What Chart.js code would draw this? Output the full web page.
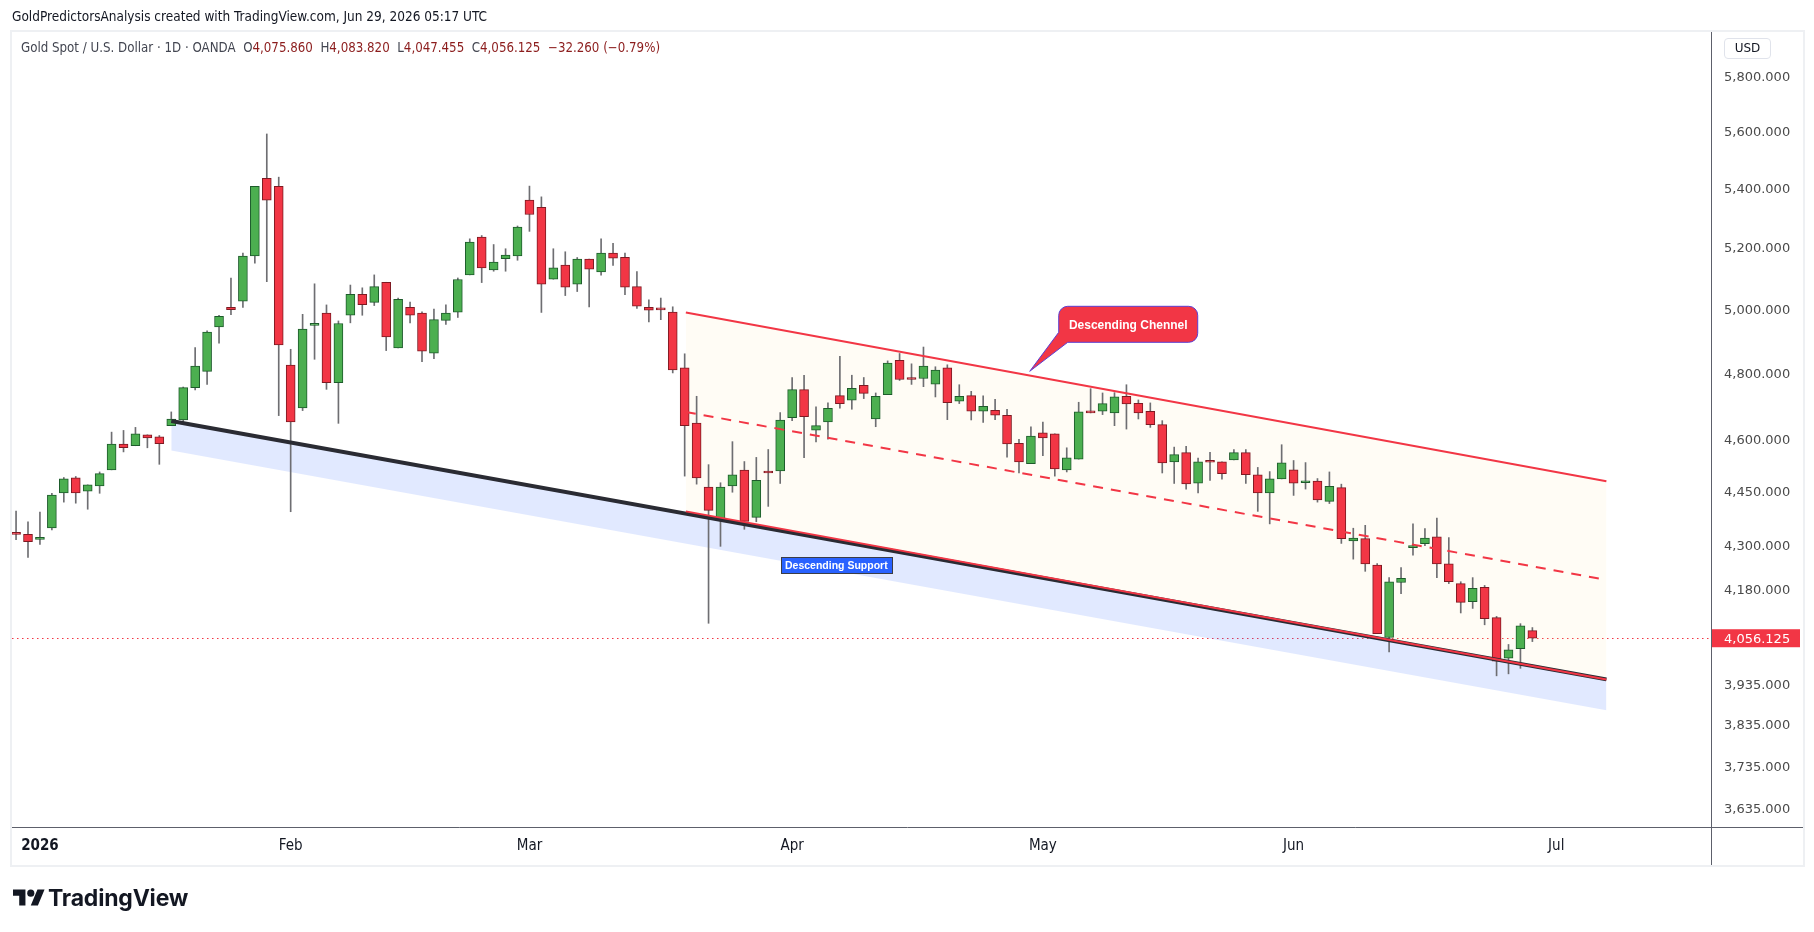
<!DOCTYPE html>
<html>
<head>
<title>Gold Spot / U.S. Dollar - 1D - OANDA</title>
<script src="https://cdn.jsdelivr.net/npm/chart.js"></script>
<style>
  html, body { margin: 0; padding: 0; background: #fff; }
  body {
    width: 1814px; height: 932px; position: relative; overflow: hidden;
    font-family: "Liberation Sans Narrow", "DejaVu Sans Condensed", "Liberation Sans", sans-serif;
    color: #131722;
  }
  #chart { position: absolute; left: 0; top: 0; }
  .txt { position: absolute; white-space: nowrap; pointer-events: none; }
  #credit { left: 12px; top: 8px; font-size: 13.5px; line-height: 17px; }
  #legend { left: 21px; top: 39px; font-size: 13.2px; line-height: 17px; color: #434651; }
  #legend b { font-weight: normal; color: #8c1d1d; }
  #frame {
    position: absolute; left: 10px; top: 30px; width: 1795px; height: 837px;
    box-sizing: border-box; border: 2px solid #eef0f3; pointer-events: none;
  }
  #usd {
    left: 1724px; top: 38px; width: 47px; height: 21px; box-sizing: border-box;
    border: 1px solid #e0e3eb; border-radius: 4px; font: 12px "DejaVu Sans", sans-serif;
    line-height: 19px; text-align: center; color: #131722;
  }
  #logo { left: 13px; top: 886px; }
  #logotext { left: 48px; top: 883px; font: 700 23px Inter, Roboto, sans-serif; line-height: 30px; letter-spacing: -0.2px; }
</style>
</head>
<body>
<canvas id="chart" width="1814" height="932"></canvas>
<div id="frame"></div>
<div class="txt" id="credit">GoldPredictorsAnalysis created with TradingView.com, Jun 29, 2026 05:17 UTC</div>
<div class="txt" id="legend">Gold Spot / U.S. Dollar · 1D · OANDA&nbsp; O<b>4,075.860</b>&nbsp; H<b>4,083.820</b>&nbsp; L<b>4,047.455</b>&nbsp; C<b>4,056.125</b>&nbsp; <b>−32.260 (−0.79%)</b></div>
<div class="txt" id="usd">USD</div>
<svg class="txt" id="logo" width="32" height="25" viewBox="0 0 36 28"><path d="M14 22H7V11H0V4h14v18zM28 22h-8l7.5-18h8L28 22z" fill="#131722"/><circle cx="20" cy="8" r="4" fill="#131722"/></svg>
<div class="txt" id="logotext">TradingView</div>

<script>
// daily candles, Dec 30 2025 .. Jun 29 2026 (trading days)
const opens = [4335, 4334, 4320, 4352, 4450, 4493, 4455, 4470, 4516, 4591,
  4586, 4618, 4612, 4645, 4662, 4759, 4809, 4947, 5009, 5029,
  5176, 5439, 5411, 4828, 4698, 4952, 4991, 4774, 4984, 5051,
  5025, 5090, 4881, 5009, 4991, 4865, 4968, 4994, 5114, 5239,
  5130, 5167, 5176, 5364, 5339, 5100, 5146, 5084, 5166, 5124,
  5186, 5172, 5076, 5009, 5003, 4994, 4820, 4653, 4467, 4375,
  4470, 4515, 4381, 4509, 4513, 4669, 4753, 4632, 4656, 4735,
  4721, 4766, 4665, 4738, 4843, 4790, 4787, 4770, 4820, 4718,
  4735, 4688, 4691, 4676, 4593, 4534, 4624, 4621, 4516, 4547,
  4685, 4688, 4683, 4733, 4712, 4688, 4648, 4539, 4566, 4478,
  4540, 4539, 4545, 4566, 4502, 4450, 4490, 4516, 4479, 4484,
  4426, 4465, 4316, 4322, 4250, 4058, 4203, 4297, 4308, 4327,
  4253, 4200, 4152, 4190, 4110, 4005, 4029, 4075.86];
const highs = [4399, 4369, 4396, 4449, 4494, 4497, 4473, 4510, 4626, 4631,
  4640, 4618, 4616, 4686, 4761, 4882, 4935, 4984, 5104, 5186,
  5411, 5595, 5443, 4877, 4987, 5085, 5017, 4966, 5081, 5072,
  5114, 5090, 5039, 5026, 4995, 5004, 5017, 5104, 5233, 5244,
  5214, 5200, 5276, 5412, 5375, 5200, 5190, 5171, 5166, 5233,
  5218, 5186, 5125, 5033, 5039, 5011, 4863, 4733, 4531, 4479,
  4598, 4540, 4552, 4575, 4684, 4790, 4797, 4701, 4713, 4855,
  4797, 4790, 4743, 4841, 4864, 4832, 4884, 4823, 4829, 4768,
  4748, 4734, 4724, 4694, 4605, 4642, 4656, 4621, 4580, 4715,
  4756, 4743, 4744, 4768, 4722, 4713, 4660, 4582, 4584, 4550,
  4567, 4539, 4575, 4575, 4523, 4511, 4589, 4543, 4537, 4491,
  4510, 4475, 4351, 4359, 4254, 4216, 4243, 4363, 4350, 4379,
  4325, 4205, 4216, 4195, 4113, 4040, 4094, 4083.82];
const lows = [4319, 4271, 4306, 4346, 4424, 4421, 4404, 4449, 4516, 4568,
  4586, 4580, 4532, 4645, 4655, 4752, 4769, 4896, 4986, 5009,
  5152, 5092, 4675, 4397, 4690, 4846, 4754, 4652, 4960, 4984,
  5015, 4873, 4881, 4960, 4839, 4848, 4955, 4977, 5114, 5089,
  5126, 5126, 5162, 5258, 4993, 5100, 5047, 5060, 5011, 5113,
  5145, 5050, 5006, 4963, 4970, 4804, 4498, 4475, 4095, 4301,
  4452, 4348, 4369, 4412, 4477, 4660, 4551, 4597, 4605, 4697,
  4694, 4726, 4642, 4738, 4781, 4769, 4762, 4731, 4663, 4711,
  4662, 4655, 4663, 4553, 4507, 4534, 4557, 4498, 4510, 4547,
  4683, 4678, 4645, 4635, 4665, 4640, 4507, 4477, 4461, 4450,
  4486, 4489, 4545, 4477, 4398, 4363, 4490, 4443, 4461, 4424,
  4420, 4309, 4266, 4233, 4068, 4021, 4173, 4277, 4303, 4216,
  4200, 4122, 4134, 4091, 3960, 3965, 3979, 4047.455];
const closes = [4334, 4314, 4326, 4444, 4490, 4450, 4473, 4505, 4591, 4580,
  4621, 4609, 4592, 4665, 4759, 4825, 4931, 4981, 5002, 5176,
  5411, 5364, 4891, 4656, 4940, 4958, 4774, 4958, 5051, 5018,
  5076, 4916, 5035, 4984, 4871, 4970, 4991, 5099, 5222, 5137,
  5156, 5179, 5272, 5315, 5084, 5137, 5074, 5166, 5133, 5186,
  5169, 5074, 5013, 5000, 5001, 4813, 4645, 4493, 4401, 4467,
  4502, 4370, 4486, 4507, 4662, 4753, 4672, 4645, 4697, 4711,
  4757, 4742, 4733, 4834, 4784, 4784, 4825, 4813, 4714, 4733,
  4688, 4703, 4676, 4591, 4539, 4614, 4609, 4519, 4551, 4686,
  4683, 4711, 4731, 4710, 4683, 4648, 4536, 4560, 4476, 4539,
  4538, 4505, 4566, 4502, 4450, 4490, 4536, 4478, 4481, 4430,
  4469, 4322, 4324, 4253, 4068, 4205, 4214, 4303, 4324, 4253,
  4205, 4150, 4187, 4107, 3997, 4026, 4088.385, 4056.125];

const xTickIndex = [2, 23, 43, 65, 86, 107, 129];
const xTickLabels = ['2026', 'Feb', 'Mar', 'Apr', 'May', 'Jun', 'Jul'];
const yTickValues = [5800, 5600, 5400, 5200, 5000, 4800, 4600, 4450, 4300, 4180, 3935, 3835, 3735, 3635];
const lastPrice = 4056.125;

// drawings: [bar index, price]
const supportLine = [[13.0, 4659], [133.2, 3951]];
const supportBandBottom = [[13.0, 4572], [133.2, 3874]];
const channelUpper = [[56.1, 4993], [133.2, 4483]];
const channelMid = [[56.1, 4686], [133.2, 4210]];
const channelLower = [[56.1, 4398], [133.2, 3951]];
const channelCalloutTip = [84.9, 4809];
const supportLabelAt = [68.7, 4250];

const GREEN = '#4caf50', GREEN_EDGE = '#1d5b2b', RED = '#f23645', RED_EDGE = '#7d1a22';
const FONT = '"Liberation Sans Narrow", "DejaVu Sans Condensed", "Liberation Sans", sans-serif';
const fmt = v => v.toLocaleString('en-US', { minimumFractionDigits: 3, maximumFractionDigits: 3 });
const toXY = pts => pts.map(([x, y]) => ({ x, y }));

const wickData = highs.map((h, i) => ({ x: i, y: [lows[i], h] }));
const bodyData = opens.map((o, i) => ({ x: i, y: [Math.min(o, closes[i]), Math.max(o, closes[i])] }));
const up = opens.map((o, i) => closes[i] >= o);

const line = { type: 'line', pointRadius: 0, tension: 0, borderWidth: 0, borderColor: 'transparent', fill: false };

const overlay = {
  id: 'overlay',
  beforeDatasetsDraw(chart) {
    const { ctx, chartArea: a, scales: { y } } = chart;
    const py = Math.round(y.getPixelForValue(lastPrice)) + 0.5;
    ctx.save();
    ctx.strokeStyle = RED; ctx.lineWidth = 1; ctx.setLineDash([1.5, 3.5]);
    ctx.beginPath(); ctx.moveTo(a.left, py); ctx.lineTo(a.right, py); ctx.stroke();
    ctx.restore();
  },
  afterDraw(chart) {
    const { ctx, chartArea: a, scales: { x, y } } = chart;
    ctx.save();
    // scale borders
    ctx.strokeStyle = '#5d606b'; ctx.lineWidth = 1;
    ctx.beginPath();
    ctx.moveTo(a.right + 0.5, a.top); ctx.lineTo(a.right + 0.5, 866);
    ctx.moveTo(12, a.bottom + 0.5); ctx.lineTo(1803, a.bottom + 0.5);
    ctx.stroke();

    // last price tag
    const py = y.getPixelForValue(lastPrice);
    ctx.fillStyle = RED;
    ctx.fillRect(a.right + 1, py - 9, 88, 18);
    ctx.fillStyle = '#fff';
    ctx.font = '13px "DejaVu Sans", sans-serif';
    ctx.textBaseline = 'middle'; ctx.textAlign = 'left';
    ctx.fillText(fmt(lastPrice), a.right + 13, py + 1);

    // "Descending Chennel" callout
    const tx = x.getPixelForValue(channelCalloutTip[0]), ty = y.getPixelForValue(channelCalloutTip[1]);
    const bx = tx + 29, by = ty - 65, bw = 139, bh = 36, r = 9;
    ctx.beginPath();
    ctx.moveTo(bx + r, by);
    ctx.lineTo(bx + bw - r, by); ctx.arcTo(bx + bw, by, bx + bw, by + r, r);
    ctx.lineTo(bx + bw, by + bh - r); ctx.arcTo(bx + bw, by + bh, bx + bw - r, by + bh, r);
    ctx.lineTo(bx + 9, by + bh);
    ctx.lineTo(tx, ty);
    ctx.lineTo(bx, by + bh - 10);
    ctx.lineTo(bx, by + r); ctx.arcTo(bx, by, bx + r, by, r);
    ctx.closePath();
    ctx.fillStyle = RED; ctx.fill();
    ctx.strokeStyle = '#5a3fd3'; ctx.lineWidth = 1; ctx.stroke();
    ctx.fillStyle = '#fff';
    ctx.font = 'bold 12px "Liberation Sans", sans-serif';
    ctx.textAlign = 'center';
    ctx.fillText('Descending Chennel', bx + bw / 2, by + bh / 2 + 1);

    // "Descending Support" label
    const sx = x.getPixelForValue(supportLabelAt[0]), sy = y.getPixelForValue(supportLabelAt[1]);
    ctx.font = 'bold 10.5px "Liberation Sans", sans-serif';
    const w = ctx.measureText('Descending Support').width + 8;
    ctx.fillStyle = '#2962ff';
    ctx.fillRect(Math.round(sx - w / 2) + 0.5, Math.round(sy - 8) + 0.5, Math.round(w), 16);
    ctx.strokeStyle = '#3b3d45';
    ctx.strokeRect(Math.round(sx - w / 2) + 0.5, Math.round(sy - 8) + 0.5, Math.round(w), 16);
    ctx.fillStyle = '#fff';
    ctx.fillText('Descending Support', sx, sy + 1);
    ctx.restore();
  }
};

new Chart(document.getElementById('chart'), {
  type: 'bar',
  data: {
    datasets: [
      { ...line, data: toXY(supportLine), fill: '+1', backgroundColor: 'rgba(41,98,255,0.14)', order: 20 },
      { ...line, data: toXY(supportBandBottom), order: 21 },
      { ...line, data: toXY(channelUpper), fill: { target: 3 }, backgroundColor: 'rgba(255,225,160,0.10)', order: 18 },
      { ...line, data: toXY(channelLower), order: 19 },
      { type: 'bar', data: wickData, backgroundColor: '#6e6e72', barThickness: 1, grouped: false, order: 10 },
      {
        type: 'bar', data: bodyData,
        backgroundColor: up.map(u => u ? GREEN : RED),
        borderColor: up.map(u => u ? GREEN_EDGE : RED_EDGE),
        borderWidth: 1, borderSkipped: false, barThickness: 9, minBarLength: 2, grouped: false, order: 9
      },
      { ...line, data: toXY(supportLine), borderColor: '#2a2b33', borderWidth: 4, order: 4 },
      { ...line, data: toXY(channelUpper), borderColor: RED, borderWidth: 2, order: 3 },
      { ...line, data: toXY(channelMid), borderColor: RED, borderWidth: 2, borderDash: [10, 8], order: 3 },
      { ...line, data: toXY(channelLower), borderColor: RED, borderWidth: 2, order: 2 }
    ]
  },
  options: {
    responsive: false,
    animation: false,
    devicePixelRatio: 1,
    layout: { padding: { left: 12, top: 32, right: 11, bottom: 67 } },
    plugins: { legend: { display: false }, tooltip: { enabled: false } },
    scales: {
      x: {
        type: 'linear', min: -0.34, max: 141.96, offset: false, bounds: 'data',
        grid: { display: false, drawTicks: false }, border: { display: false },
        afterBuildTicks: s => { s.ticks = xTickIndex.map(v => ({ value: v })); },
        afterFit: s => { s.height = 38; },
        ticks: {
          autoSkip: false, maxRotation: 0, padding: 10, color: '#131722',
          font: c => ({ family: FONT, size: 15, weight: c.tick && c.tick.value === xTickIndex[0] ? 'bold' : 'normal' }),
          callback: v => xTickLabels[xTickIndex.indexOf(v)]
        }
      },
      y: {
        type: 'logarithmic', position: 'right', min: 3596, max: 5971, bounds: 'data',
        grid: { display: false, drawTicks: false }, border: { display: false },
        afterBuildTicks: s => { s.ticks = yTickValues.map(v => ({ value: v })); },
        afterFit: s => { s.width = 92; },
        ticks: {
          autoSkip: false, padding: 13, color: '#4a4a4a',
          font: { family: '"DejaVu Sans", sans-serif', size: 13 },
          callback: v => fmt(v)
        }
      }
    }
  },
  plugins: [overlay]
});
</script>
</body>
</html>
